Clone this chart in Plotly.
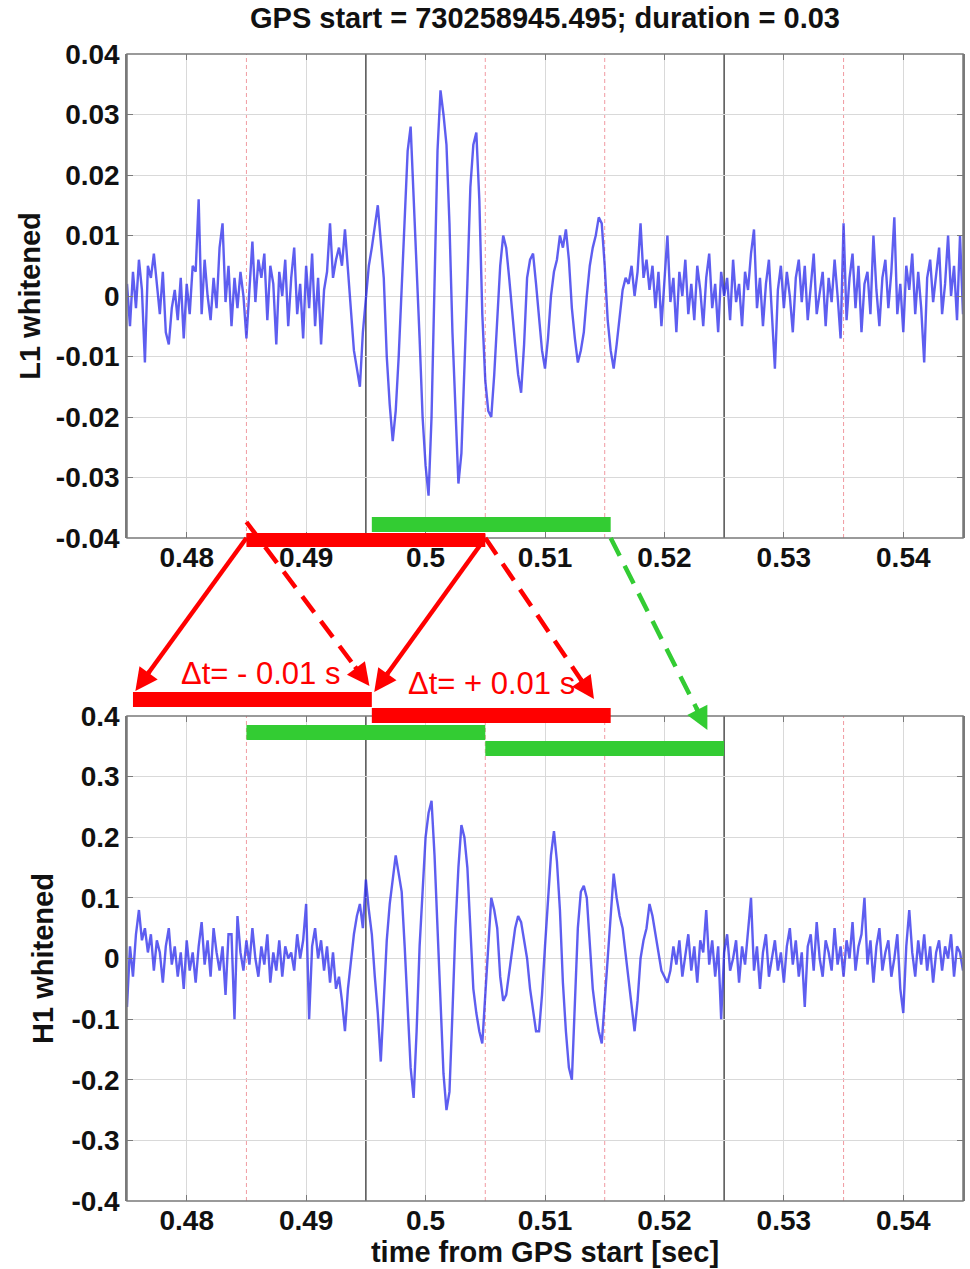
import plotly.graph_objects as go

# ---------------- data ----------------
T0 = 0.475          # first sample time (s from GPS start)
DT = 0.00025        # sample spacing (s)

# L1 whitened strain, in units of 1e-3
L1_MILLI = [
    2, -5, 4, -2, 6, 1, -11, 5, 3, 7,
    2, -3, 4, -6, -8, -2, 1, -4, 3, -7,
    2, -3, 5, 4, 16, -3, 6, 0, -4, 3,
    -2, 8, 12, -1, 5, -5, 3, -2, 4, 0,
    -7, 2, 9, -1, 6, 3, 7, -4, 5, 2,
    -8, 4, 0, 6, -5, 3, 8, -3, 2, -7,
    5, -2, 7, -5, 3, -8, 1, 4, 12, 3,
    6, 8, 5, 11, 4, -3, -9, -12, -15, -6,
    0, 5, 8, 12, 15, 9, 3, -10, -18, -24,
    -19, -10, 2, 14, 24, 28, 17, 4, -7, -20,
    -28, -33, -20, 2, 24, 34, 30, 25, 12, -6,
    -20, -31, -26, -13, 2, 18, 25, 27, 16, -3,
    -14, -19, -20, -13, -4, 5, 10, 8, 3, -3,
    -8, -13, -16, -8, 3, 6, 7, 2, -4, -9,
    -12, -7, 0, 4, 6, 10, 8, 11, 6, -2,
    -7, -11, -9, -6, 0, 5, 8, 10, 13, 12,
    5, -4, -9, -12, -8, -3, 1, 3, 2, 5,
    0, 4, 12, 3, 6, 1, 5, -2, 4, -5,
    2, 10, -1, 3, -6, 4, 0, 6, -3, 2,
    -4, 5, 1, -5, 3, 7, -2, 2, -6, 4,
    0, 3, -4, 6, -1, 2, -5, 4, 1, 7,
    11, -2, 3, -5, 2, 6, -3, -12, 1, 5,
    -2, 4, 0, -6, 3, 6, -1, 5, -4, 2,
    7, -3, 1, 4, -5, 3, -1, 6, 0, -7,
    12, -4, 3, 7, -2, 5, -6, 2, 4, -3,
    10, 1, -5, 3, 6, -2, 4, 13, -3, 2,
    -6, 5, 1, 7, -3, 4, -2, -11, 3, 6,
    -1, 4, 8, -3, 2, 10, 0, 5, -4, 10,
    -3,
]

# H1 whitened strain, in units of 1e-2
H1_CENTI = [
    -8, 2, -3, 4, 8, 3, 5, 1, 4, -2,
    3, 1, -4, 2, 5, -1, 2, -3, 1, -5,
    3, -2, 1, -4, 2, 6, -1, 3, -3, 5,
    1, -2, 2, -6, 4, 4, -10, 7, 1, -2,
    3, -1, 5, 0, -3, 2, -1, 4, -4, 1,
    -2, 3, -3, 2, 0, 1, -2, 4, 0, 3,
    9, -10, 2, 5, 0, 3, -2, 2, -4, 1,
    -5, -3, -7, -12, -5, 0, 4, 7, 9, 5,
    13, 8, 4, -3, -9, -17, -6, 3, 9, 13,
    17, 14, 11, 2, -8, -18, -23, -12, 2, 12,
    20, 24, 26, 17, 4, -8, -19, -25, -22, -9,
    5, 15, 22, 20, 15, 5, -5, -9, -12, -14,
    -6, 3, 10, 8, 5, -3, -7, -6, -2, 1,
    5, 7, 6, 3, 0, -5, -9, -12, -12, -6,
    2, 10, 17, 21, 16, 8, -4, -12, -18, -20,
    -8, 5, 11, 12, 10, 3, -5, -9, -12, -14,
    -7, 0, 6, 14, 10, 7, 5, 1, -4, -8,
    -12, -7, 0, 3, 5, 9, 7, 4, 1, -2,
    -3, -4, -2, 2, -1, 3, -3, 1, 4, -2,
    2, -4, 3, 1, 8, -1, 3, -3, 2, -10,
    1, 4, -2, 0, 3, -4, 2, -1, 5, 10,
    -2, 2, -5, 1, 4, -3, 0, 3, -2, 1,
    -4, 2, 5, -1, 3, -3, 1, -8, 2, 4,
    -2, 6, 0, -3, 3, 1, -2, 5, -1, 2,
    -3, 3, 0, 6, -2, 2, 4, 10, -1, 3,
    -4, 2, 5, -2, 1, 3, -3, 0, 4, -5,
    -9, 2, 8, 1, -3, 3, -1, 4, -2, 2,
    -4, 1, 3, -2, 2, 0, 4, -3, 2, 1,
    -2,
]

X_TICKS = [0.48, 0.49, 0.50, 0.51, 0.52, 0.53, 0.54]
X_TICK_TEXT = ["0.48", "0.49", "0.5", "0.51", "0.52", "0.53", "0.54"]
L1_Y_TICKS = [-0.04, -0.03, -0.02, -0.01, 0, 0.01, 0.02, 0.03, 0.04]
L1_Y_TICK_TEXT = ["-0.04", "-0.03", "-0.02", "-0.01", "0", "0.01", "0.02", "0.03", "0.04"]
H1_Y_TICKS = [-0.4, -0.3, -0.2, -0.1, 0, 0.1, 0.2, 0.3, 0.4]
H1_Y_TICK_TEXT = ["-0.4", "-0.3", "-0.2", "-0.1", "0", "0.1", "0.2", "0.3", "0.4"]

SEGMENT_EDGES = [0.495, 0.525]                 # solid dark vertical lines
WINDOW_EDGES = [0.485, 0.505, 0.515, 0.535]    # red dashed vertical lines

# analysis windows (start, end) in s
L1_WINDOWS = [("red", 0.485, 0.505), ("green", 0.4955, 0.5155)]
H1_WINDOWS = [("red", 0.4755, 0.4955), ("red", 0.4955, 0.5155),
              ("green", 0.485, 0.505), ("green", 0.505, 0.525)]

# time-shift arrows: (colour, dashed, tail time, head time)
SHIFT_ARROWS = [
    ("red", False, 0.485, 0.4757),
    ("red", True, 0.485, 0.4953),
    ("red", False, 0.505, 0.4957),
    ("red", True, 0.505, 0.5141),
    ("green", True, 0.5155, 0.5236),
]
SHIFT_LABELS = ["\u0394t= - 0.01 s", "\u0394t= + 0.01 s"]
SHIFT_LABEL_T = [0.4862, 0.5055]

TITLE = "GPS start = 730258945.495; duration = 0.03"

# ---------------- layout geometry ----------------
W, H = 970, 1269
ML, MR, MT, MB = 127, 7, 54, 68
PW, PH = W - ML - MR, H - MT - MB
XR = (0.475, 0.545)


def py(px):            # pixel row -> paper y
    return 1 - (px - MT) / PH


def xpx(t):            # time -> pixel column
    return ML + (t - XR[0]) / (XR[1] - XR[0]) * PW


def tpx(px):           # pixel column -> time
    return XR[0] + (px - ML) / PW * (XR[1] - XR[0])


TOP_DOMAIN = [py(538), 1]
BOT_DOMAIN = [0, py(716)]

COL = {"red": "#ff0000", "green": "#33cc33"}
FONT = "Liberation Sans, Arial, Helvetica, sans-serif"
LINE_BLUE = "rgba(40,40,235,0.75)"
FRAME = "#7a7a7a"

t_l1 = [T0 + DT * i for i in range(len(L1_MILLI))]
t_h1 = [T0 + DT * i for i in range(len(H1_CENTI))]
l1 = [v * 1e-3 for v in L1_MILLI]
h1 = [v * 1e-2 for v in H1_CENTI]

fig = go.Figure()
fig.add_trace(go.Scatter(x=t_l1, y=l1, mode="lines", xaxis="x", yaxis="y",
                         line=dict(color=LINE_BLUE, width=2.4), hoverinfo="skip"))
fig.add_trace(go.Scatter(x=t_h1, y=h1, mode="lines", xaxis="x2", yaxis="y2",
                         line=dict(color=LINE_BLUE, width=2.4), hoverinfo="skip"))

shapes = []
annotations = []

# vertical marker lines + frame in both panels
for xa, ya in (("x", "y"), ("x2", "y2")):
    for e in WINDOW_EDGES:
        shapes.append(dict(type="line", xref=xa, yref=ya + " domain", x0=e, x1=e, y0=0, y1=1,
                           layer="below", line=dict(color="rgba(235,120,130,0.75)",
                                                    width=1, dash="4px,3px")))
    for e in SEGMENT_EDGES:
        shapes.append(dict(type="line", xref=xa, yref=ya + " domain", x0=e, x1=e, y0=0, y1=1,
                           layer="below", line=dict(color="#5a5a5a", width=1.6)))
    shapes.append(dict(type="rect", xref=xa + " domain", yref=ya + " domain",
                       x0=0, x1=1, y0=0, y1=1, layer="above",
                       line=dict(color=FRAME, width=1.5)))

# window bars (pixel rows)
L1_ROWS = {"red": (533, 547), "green": (517, 532)}
H1_ROWS = [(692, 707), (708, 723), (725, 740), (741, 756)]
for c, a, b in L1_WINDOWS:
    r0, r1 = L1_ROWS[c]
    shapes.append(dict(type="rect", xref="x", yref="paper", x0=a, x1=b,
                       y0=py(r1), y1=py(r0), fillcolor=COL[c], line=dict(width=0),
                       layer="above"))
for (c, a, b), (r0, r1) in zip(H1_WINDOWS, H1_ROWS):
    shapes.append(dict(type="rect", xref="x", yref="paper", x0=a, x1=b,
                       y0=py(r1), y1=py(r0), fillcolor=COL[c], line=dict(width=0),
                       layer="above"))

# arrows: tail row / head row in pixels
ARROW_ROWS = [(538, 691), (522, 686), (538, 692), (538, 699), (538, 730)]
for (c, dashed, t_tail, t_head), (r_tail, r_head) in zip(SHIFT_ARROWS, ARROW_ROWS):
    hx, hy = xpx(t_head), r_head
    tx, ty = xpx(t_tail), r_tail
    dx, dy = tx - hx, ty - hy
    n = (dx * dx + dy * dy) ** 0.5
    ux, uy = dx / n, dy / n
    ex, ey = hx + ux * 12, hy + uy * 12
    shapes.append(dict(type="line", xref="x", yref="paper",
                       x0=t_tail, y0=py(ty), x1=tpx(ex), y1=py(ey), layer="above",
                       line=dict(color=COL[c], width=4.5,
                                 dash="20px,11px" if dashed else "solid")))
    annotations.append(dict(xref="x", yref="paper", x=t_head, y=py(hy), text="",
                            showarrow=True, arrowhead=2, arrowsize=1, arrowwidth=4.5,
                            arrowcolor=COL[c], ax=ux * 26, ay=uy * 26, standoff=0))

LABEL_ROWS = [673, 683]
for txt, t, r in zip(SHIFT_LABELS, SHIFT_LABEL_T, LABEL_ROWS):
    annotations.append(dict(xref="x", yref="paper", x=t, y=py(r), text=txt,
                            showarrow=False, xanchor="center", yanchor="middle",
                            font=dict(family=FONT, size=31, color="#ff0000")))

TICKFONT = dict(family=FONT, size=28, color="#111111", weight="bold")
TITLEFONT = dict(family=FONT, size=29, color="#111111", weight="bold")
common = dict(ticks="inside", ticklen=6, tickcolor=FRAME, mirror="ticks",
              showgrid=True, gridcolor="#d9d9d9", gridwidth=1, zeroline=False,
              automargin=False, tickfont=TICKFONT)
xcommon = dict(common, showline=False, range=list(XR), domain=[0, 1],
               tickvals=X_TICKS, ticktext=X_TICK_TEXT)
ycommon = dict(common, showline=True, linecolor=FRAME, linewidth=1.5)

fig.update_layout(
    width=W, height=H,
    margin=dict(l=ML, r=MR, t=MT, b=MB),
    paper_bgcolor="white", plot_bgcolor="white",
    showlegend=False,
    title=dict(text=TITLE, x=0.5, xref="paper", xanchor="center",
               y=1 - 18 / H, yref="container", yanchor="middle",
               font=dict(family=FONT, size=29, color="#111111", weight="bold")),
    xaxis=dict(xcommon, anchor="y"),
    yaxis=dict(ycommon, range=[-0.04, 0.04], domain=TOP_DOMAIN, anchor="x",
               tickvals=L1_Y_TICKS, ticktext=L1_Y_TICK_TEXT,
               title=dict(text="L1 whitened", standoff=7, font=TITLEFONT)),
    xaxis2=dict(xcommon, anchor="y2",
                title=dict(text="time from GPS start [sec]", standoff=2, font=TITLEFONT)),
    yaxis2=dict(ycommon, range=[-0.4, 0.4], domain=BOT_DOMAIN, anchor="x2",
                tickvals=H1_Y_TICKS, ticktext=H1_Y_TICK_TEXT,
                title=dict(text="H1 whitened", standoff=9, font=TITLEFONT)),
    shapes=shapes,
    annotations=annotations,
)

fig.write_html("out.html")
